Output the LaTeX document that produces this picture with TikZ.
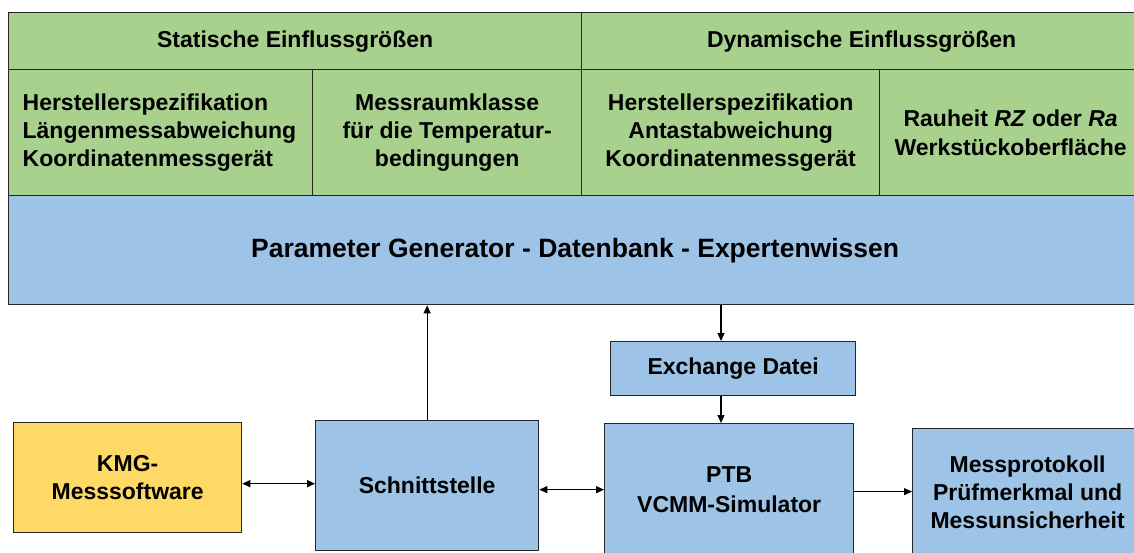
\documentclass[tikz,border=0pt]{standalone}
\usepackage{fontspec}
\setmainfont{Liberation Sans}
\usetikzlibrary{arrows.meta}
\definecolor{grn}{HTML}{A9D18E}
\definecolor{blu}{HTML}{9DC3E6}
\definecolor{yel}{HTML}{FFD966}
\begin{document}
\begin{tikzpicture}[x=1pt,y=-1pt,
  cell/.style={draw=black!85, line width=1.3pt, anchor=north west, inner sep=0pt, align=center,
    font=\bfseries\fontsize{23}{28}\selectfont},
  arr/.style={line width=1.2pt, -{Triangle[length=8pt,width=7pt]}},
  arrtwo/.style={line width=1.2pt, {Triangle[length=8pt,width=7pt]}-{Triangle[length=8pt,width=7pt]}}]
\useasboundingbox (0,0) rectangle (1134,552);
% top green area
\node[cell, fill=grn, minimum width=573, minimum height=57] (stat) at (8,12) {Statische Einflussgrößen};
\node[cell, fill=grn, minimum width=560, minimum height=57] (dyn) at (581,12) {Dynamische Einflussgrößen};
\node[cell, fill=grn, minimum width=304, minimum height=126, align=left, text width=290, inner xsep=14pt] (c1) at (8,69)
  {Herstellerspezifikation\\Längenmessabweichung\\Koordinatenmessgerät};
\node[cell, fill=grn, minimum width=269, minimum height=126] (c2) at (312,69)
  {Messraumklasse\\für die Temperatur-\\bedingungen};
\node[cell, fill=grn, minimum width=298, minimum height=126] (c3) at (581,69)
  {Herstellerspezifikation\\Antastabweichung\\Koordinatenmessgerät};
\node[cell, fill=grn, minimum width=262, minimum height=126, font=\bfseries\fontsize{23}{29}\selectfont] (c4) at (879,69)
  {Rauheit \textit{RZ} oder \textit{Ra}\\Werkstückoberfläche};
% big blue box
\node[cell, fill=blu, minimum width=1133, minimum height=109, font=\bfseries\fontsize{26.5}{30}\selectfont] (pg) at (8,195)
  {Parameter Generator - Datenbank - Expertenwissen};
% lower boxes
\node[cell, fill=blu, minimum width=245, minimum height=54] (ex) at (610,341) {Exchange Datei};
\node[cell, fill=yel, minimum width=228, minimum height=110] (kmg) at (13,422) {KMG-\\Messsoftware};
\node[cell, fill=blu, minimum width=223, minimum height=130] (sch) at (315,420) {Schnittstelle};
\node[cell, fill=blu, minimum width=249, minimum height=132, font=\bfseries\fontsize{23}{30}\selectfont] (ptb) at (604,423) {PTB\\VCMM-Simulator};
\node[cell, fill=blu, minimum width=230, minimum height=128] (mp) at (912,428) {Messprotokoll\\Prüfmerkmal und\\Messunsicherheit};
% connectors
\draw[arr] (sch.north) -- (sch.north |- pg.south);
\draw[arr] ([xshift=111pt]ex.north west |- pg.south) -- ([xshift=111pt]ex.north west);
\draw[arr] ([xshift=111pt]ex.south west) -- ([xshift=111pt]ex.south west |- ptb.north);
\draw[arrtwo] ([yshift=-6pt]kmg.east) -- ([yshift=-6pt]kmg.east -| sch.west);
\draw[arrtwo] ([yshift=-4pt]sch.east) -- ([yshift=-4pt]sch.east -| ptb.west);
\draw[arr] ([yshift=-2pt]ptb.east) -- ([yshift=-2pt]ptb.east -| mp.west);
\end{tikzpicture}
\end{document}
